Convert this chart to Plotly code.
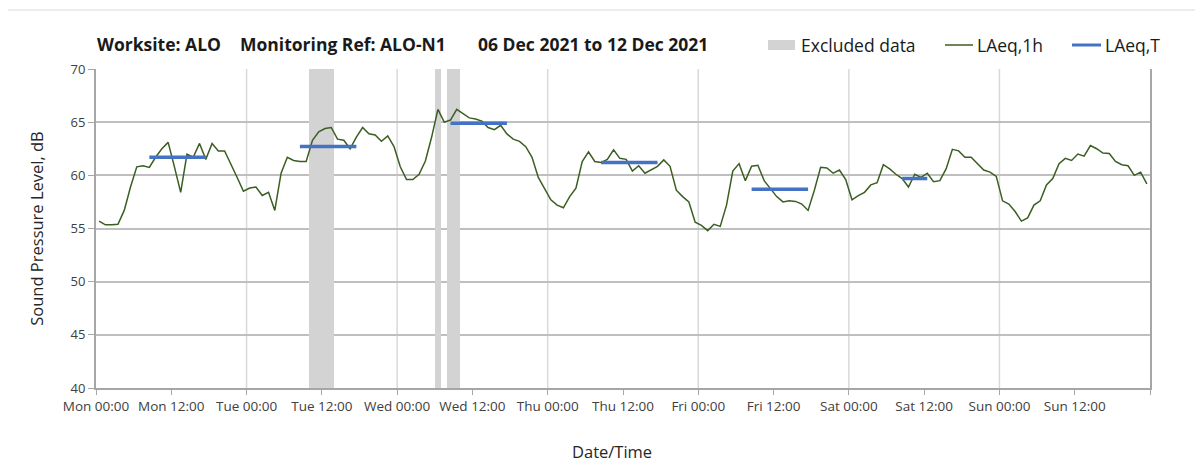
import pandas as pd
import plotly.graph_objects as go

# hourly LAeq,1h readings, Mon 06 Dec 2021 00:00 -> Sun 12 Dec 2021 23:00
laeq_1h = [
    55.7, 55.35, 55.35, 55.4, 56.7, 58.9, 60.8, 60.9, 60.75, 61.7, 62.5, 63.1,
    60.8, 58.4, 62.0, 61.7, 63.0, 61.5, 63.0, 62.3, 62.3, 61.1, 59.8, 58.5,
    58.8, 58.9, 58.1, 58.4, 56.7, 60.2, 61.7, 61.4, 61.3, 61.3, 63.3, 64.1,
    64.4, 64.5, 63.4, 63.3, 62.5, 63.6, 64.5, 63.9, 63.8, 63.2, 63.7, 62.7,
    60.8, 59.6, 59.6, 60.1, 61.35, 63.6, 66.2, 65.0, 65.2, 66.2, 65.8, 65.4,
    65.3, 65.1, 64.5, 64.3, 64.7, 63.9, 63.4, 63.2, 62.7, 61.7, 59.8, 58.7,
    57.7, 57.2, 56.95, 58.0, 58.8, 61.3, 62.2, 61.3, 61.2, 61.5, 62.4, 61.6,
    61.5, 60.4, 60.9, 60.2, 60.5, 60.85, 61.45, 60.85, 58.6, 58.0, 57.5, 55.6,
    55.3, 54.8, 55.4, 55.2, 57.2, 60.4, 61.1, 59.5, 60.85, 60.95, 59.5, 58.7,
    58.0, 57.5, 57.6, 57.55, 57.3, 56.7, 58.6, 60.75, 60.7, 60.2, 60.5, 59.6,
    57.7, 58.1, 58.4, 59.1, 59.3, 61.0, 60.6, 60.1, 59.7, 58.9, 60.1, 59.8,
    60.2, 59.4, 59.5, 60.6, 62.45, 62.3, 61.7, 61.7, 61.1, 60.5, 60.3, 59.9,
    57.6, 57.3, 56.6, 55.7, 56.0, 57.2, 57.6, 59.1, 59.7, 61.1, 61.6, 61.4,
    62.0, 61.8, 62.8, 62.5, 62.1, 62.05, 61.3, 61.0, 60.9, 60.0, 60.3, 59.2,
]
hour_start = pd.date_range("2021-12-06 00:00", periods=len(laeq_1h), freq="h")
plot_time = hour_start + pd.Timedelta(minutes=30)

# excluded hours (start of each excluded hour)
excluded = ["2021-12-07 10:00", "2021-12-07 11:00", "2021-12-07 12:00",
            "2021-12-07 13:00", "2021-12-08 06:00", "2021-12-08 08:00",
            "2021-12-08 09:00"]

# LAeq,T assessment periods
period_start = ["2021-12-06 08:00", "2021-12-07 08:00", "2021-12-08 08:00",
                "2021-12-09 08:00", "2021-12-10 08:00", "2021-12-11 08:00"]
period_end = ["2021-12-06 18:00", "2021-12-07 18:00", "2021-12-08 18:00",
              "2021-12-09 18:00", "2021-12-10 18:00", "2021-12-11 13:00"]
laeq_t = [61.7, 62.7, 64.9, 61.2, 58.7, 59.7]

t0 = pd.Timestamp("2021-12-06 00:00")
t1 = pd.Timestamp("2021-12-13 00:00")

GREEN = "#3B5E22"
BLUE = "#4472C4"
GREY = "#D3D3D3"

# build blue segments with gaps
tx, ty = [], []
for s, e, v in zip(period_start, period_end, laeq_t):
    tx += [pd.Timestamp(s) + pd.Timedelta(minutes=30), pd.Timestamp(e) - pd.Timedelta(minutes=30), None]
    ty += [v, v, None]

fig = go.Figure()

fig.add_trace(go.Bar(
    x=pd.to_datetime(excluded), y=[30] * len(excluded), base=40,
    width=3600000, offset=0,
    marker=dict(color=GREY, line=dict(width=0)),
    name="Excluded data", hoverinfo="skip", showlegend=False
))

fig.add_trace(go.Scatter(
    x=plot_time, y=laeq_1h, mode="lines",
    line=dict(color=GREEN, width=1.5),
    name="LAeq,1h", showlegend=False
))

fig.add_trace(go.Scatter(
    x=tx, y=ty, mode="lines",
    line=dict(color=BLUE, width=3.5),
    name="LAeq,T", connectgaps=False, showlegend=False
))

# daily vertical gridlines
for d in pd.date_range(t0 + pd.Timedelta(days=1), t1 - pd.Timedelta(days=1), freq="D"):
    fig.add_shape(type="line", xref="x", yref="paper", x0=d, x1=d, y0=0, y1=1,
                  line=dict(color="#D9D9D9", width=1.5), layer="below")

# page body has an 8px margin, so the figure is sized to fit the window
OFF = 8
W, H = 1203 - OFF, 474 - OFF
L, R, T, B = 96 - OFF, 53, 69 - OFF, 86
pw, ph = W - L - R, H - T - B


def px(x):
    # page pixel -> paper x
    return (x - OFF - L) / pw


def py(y):
    # page pixel -> paper y
    return (H + OFF - B - y) / ph


# outer chart border
fig.add_shape(type="rect", xref="paper", yref="paper",
              x0=px(6), x1=1.2, y0=-0.5, y1=py(10),
              line=dict(color="#D9D9D9", width=1), layer="below")

title_font = dict(family="Open Sans", size=17.5, color="#1a1a1a")
for txt, xpos in [("<b>Worksite: ALO</b>", 95), ("<b>Monitoring Ref: ALO-N1</b>", 238),
                  ("<b>06 Dec 2021 to 12 Dec 2021</b>", 476)]:
    fig.add_annotation(text=txt, x=px(xpos), y=py(44), xref="paper", yref="paper",
                       xanchor="left", yanchor="middle", showarrow=False, font=title_font)

# legend
leg_font = dict(family="Open Sans", size=17.5, color="#1a1a1a")
fig.add_shape(type="rect", xref="paper", yref="paper", x0=px(768), x1=px(795),
              y0=py(50), y1=py(40), fillcolor=GREY, line=dict(width=0))
fig.add_shape(type="line", xref="paper", yref="paper", x0=px(945), x1=px(973),
              y0=py(45), y1=py(45), line=dict(color=GREEN, width=1.5))
fig.add_shape(type="line", xref="paper", yref="paper", x0=px(1072), x1=px(1101),
              y0=py(45), y1=py(45), line=dict(color=BLUE, width=3))
for txt, xpos in [("Excluded data", 799), ("LAeq,1h", 975), ("LAeq,T", 1103)]:
    fig.add_annotation(text=txt, x=px(xpos), y=py(45), xref="paper", yref="paper",
                       xanchor="left", yanchor="middle", showarrow=False, font=leg_font)

fig.add_annotation(text="Date/Time", x=px(612), y=py(451), xref="paper", yref="paper",
                   xanchor="center", yanchor="middle", showarrow=False,
                   font=dict(family="Open Sans", size=16.5, color="#262626"))

# ticks every 12h; the closing tick at the right edge carries no label
tick_vals = list(pd.date_range(t0, t1, freq="12h"))
tick_text = [t.strftime("%a %H:%M") for t in tick_vals[:-1]] + [""]

fig.update_layout(
    width=W, height=H,
    margin=dict(l=L, r=R, t=T, b=B, autoexpand=False),
    paper_bgcolor="white", plot_bgcolor="white",
    font=dict(family="Open Sans", color="#404040"),
    bargap=0,
    showlegend=False,
    xaxis=dict(
        type="date", range=[t0, t1],
        tickmode="array", tickvals=tick_vals, ticktext=tick_text,
        ticks="outside", ticklen=5, tickcolor="#A6A6A6",
        showgrid=False, zeroline=False,
        showline=True, linecolor="#A6A6A6", linewidth=2,
        tickfont=dict(size=13.5, color="#404040"),
        automargin=False,
    ),
    yaxis=dict(
        range=[40, 70], dtick=5, tick0=40,
        ticks="outside", ticklen=6, tickcolor="#A6A6A6",
        showgrid=True, gridcolor="#BFBFBF", gridwidth=1.5,
        zeroline=False, showline=True, linecolor="#A6A6A6", linewidth=2, mirror=True,
        tickfont=dict(size=13, color="#404040"),
        title=dict(text="Sound Pressure Level, dB", font=dict(size=16.5, color="#262626"), standoff=23),
        automargin=False,
    ),
)

fig.write_html("out.html")
